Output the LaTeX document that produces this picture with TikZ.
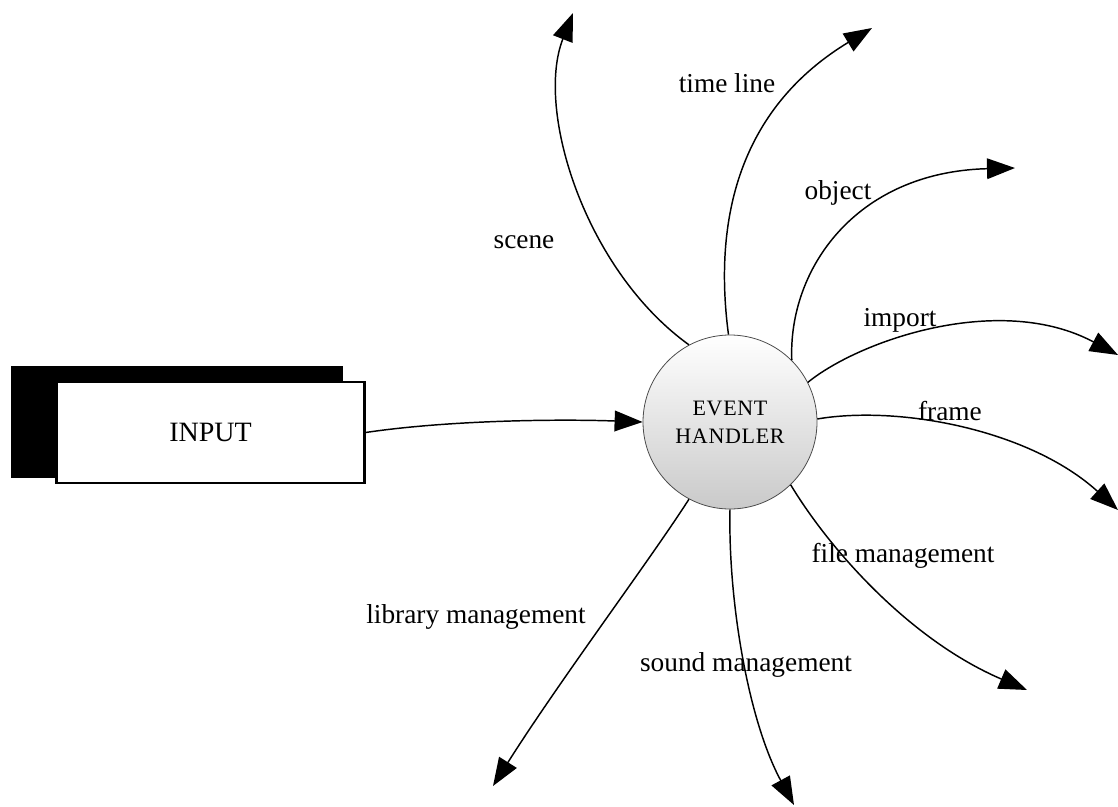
\documentclass[tikz,border=0pt]{standalone}
\usepackage{fontspec}
\setmainfont{Liberation Serif}
\newfontfamily\hubfont[LetterSpace=3]{Liberation Serif}
\usetikzlibrary{arrows.meta}
\begin{document}
\begin{tikzpicture}[x=0.75pt,y=-0.75pt,
  flow/.style={line width=1.1pt,-{Triangle[length=21pt,width=15.5pt]}},
  lbl/.style={font=\fontsize{20.5pt}{24pt}\selectfont,inner sep=0pt},
  hub/.style={circle,draw=gray!60!black,line width=0.6pt,minimum size=130.5pt,
    top color=white,bottom color=gray!42,align=center,
    font=\hubfont\fontsize{16.5pt}{21pt}\selectfont},
  inbox/.style={rectangle,draw=black,line width=1.6pt,fill=white,
    minimum width=231pt,minimum height=75.5pt,inner sep=0pt,
    font=\fontsize{21pt}{24pt}\selectfont},
  shadowbox/.style={rectangle,fill=black,inner sep=0pt,
    minimum width=249pt,minimum height=84pt}]
\useasboundingbox (0,0) rectangle (1118,807);

% input block with its offset black backing
\node[shadowbox] (inshadow) at (177,422) {};
\node[inbox] (in) at (210.5,432.5) {INPUT};

% central process
\node[hub] (eh) at (730,422) {EVENT\\HANDLER};

% arrow end points
\coordinate (tScene) at (573,13);
\coordinate (tTime) at (872,28);
\coordinate (tObject) at (1015,168);
\coordinate (tImport) at (1118,355);
\coordinate (tFrame) at (1118,510);
\coordinate (tFile) at (1027,690);
\coordinate (tSound) at (794,805);
\coordinate (tLib) at (493,786);

% input to handler
\draw[flow] (in.east) .. controls (450,420) and (560,419) .. (eh.west);

% outgoing flows
\draw[flow] (eh.118) .. controls (585,270) and (535,110) .. (tScene);
\draw[flow] (eh.91) .. controls (712,210) and (745,105) .. (tTime);
\draw[flow] (eh.45) .. controls (788,270) and (855,172) .. (tObject);
\draw[flow] (eh.27) .. controls (860,340) and (1000,292) .. (tImport);
\draw[flow] (eh.2) .. controls (900,405) and (1030,430) .. (tFrame);
\draw[flow] (eh.-46) .. controls (830,550) and (910,640) .. (tFile);
\draw[flow] (eh.-90) .. controls (728,600) and (748,720) .. (tSound);
\draw[flow] (eh.-118) .. controls (650,560) and (560,680) .. (tLib);

% flow labels
\node[lbl] (lScene) at (524,242) {scene};
\node[lbl] (lTime) at (727,83) {time line};
\node[lbl] (lObject) at (838,193) {object};
\node[lbl] (lImport) at (900,320) {import};
\node[lbl] (lFrame) at (950,411) {frame};
\node[lbl] (lFile) at (903,556) {file management};
\node[lbl] (lLib) at (476,617) {library management};
\node[lbl] (lSound) at (746,665) {sound management};
\end{tikzpicture}
\end{document}
